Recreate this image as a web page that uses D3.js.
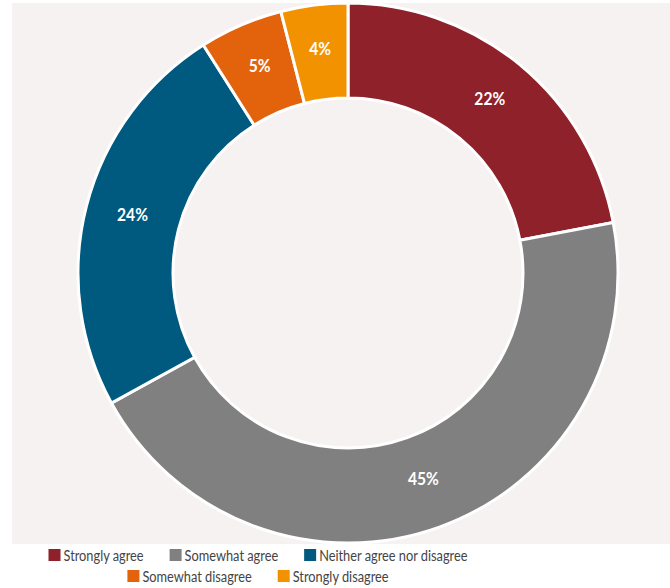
<!DOCTYPE html>
<html>
<head>
<meta charset="UTF-8" />
<style>
  body { margin: 0; background: #fff; }
  svg { display: block; font-family: Lato, "Open Sans", sans-serif; }
</style>
</head>
<body>
<svg></svg>
<script src="https://d3js.org/d3.v7.min.js"></script>
<script>
  // chart data
  var categories = ["Strongly agree", "Somewhat agree", "Neither agree nor disagree", "Somewhat disagree", "Strongly disagree"];
  var values = [22, 45, 24, 5, 4];
  var colours = ["#8e2129", "#808080", "#00597f", "#e3620c", "#f39200"];
  var legendRows = [[0, 1, 2], [3, 4]];

  var width = 670, height = 588;
  var svg = d3.select("svg").attr("width", width).attr("height", height);

  // panel background
  svg.append("rect")
    .attr("x", 12).attr("y", 3)
    .attr("width", width - 12).attr("height", 541)
    .attr("fill", "#f6f2f1");

  var cx = 348, cy = 273, outerR = 270, innerR = 175;

  var pie = d3.pie().sort(null).value(function (d) { return d; });
  var arc = d3.arc().innerRadius(innerR).outerRadius(outerR);
  var arcs = pie(values);

  var g = svg.append("g").attr("transform", "translate(" + cx + "," + cy + ")");

  g.selectAll("path")
    .data(arcs)
    .enter()
    .append("path")
    .attr("d", arc)
    .attr("fill", function (d, i) { return colours[i]; })
    .attr("stroke", "#ffffff")
    .attr("stroke-width", 3);

  g.selectAll("text")
    .data(arcs)
    .enter()
    .append("text")
    .attr("transform", function (d) {
      var c = arc.centroid(d);
      return "translate(" + c[0] + "," + (c[1] - 3) + ") scale(0.92,1)";
    })
    .attr("text-anchor", "middle")
    .attr("dy", "0.35em")
    .attr("fill", "#fff")
    .attr("font-weight", "bold")
    .attr("font-size", 17)
    .text(function (d) { return d.data + "%"; });

  // legend, two centred rows (text squeezed a bit to mimic a narrow face)
  var legendCenter = 258, box = 12, gap = 26, fs = 16, squeeze = 0.8;
  legendRows.forEach(function (row, r) {
    var y = 555 + r * 21;
    var lg = svg.append("g");
    var x = 0;
    row.forEach(function (i) {
      lg.append("rect")
        .attr("x", x).attr("y", y - box / 2)
        .attr("width", box).attr("height", box)
        .attr("fill", colours[i]);
      var t = lg.append("text")
        .attr("transform", "translate(" + (x + box + 3) + "," + y + ") scale(" + squeeze + ",1)")
        .attr("dy", "0.35em")
        .attr("font-size", fs)
        .attr("fill", "#444")
        .text(categories[i]);
      x += box + 3 + t.node().getComputedTextLength() * squeeze + gap;
    });
    var total = x - gap;
    lg.attr("transform", "translate(" + (legendCenter - total / 2) + ",0)");
  });
</script>
</body>
</html>
